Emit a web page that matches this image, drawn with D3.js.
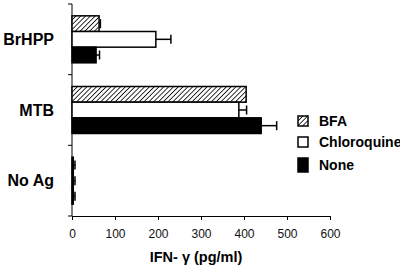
<!DOCTYPE html>
<html>
<head>
<meta charset="utf-8">
<script src="https://cdn.jsdelivr.net/npm/d3@7"></script>
<style>
  html, body { margin: 0; padding: 0; background: #fff; }
  svg { display: block; font-family: "Liberation Sans", Arial, sans-serif; }
</style>
</head>
<body>
<script>
const categories = ["BrHPP", "MTB", "No Ag"];
const series = ["BFA", "Chloroquine", "None"];
const bfaValues = [63, 405, 3];
const bfaErrors = [3, 0, 4];
const chloroquineValues = [195, 388, 3];
const chloroquineErrors = [35, 18, 4];
const noneValues = [56, 440, 3];
const noneErrors = [8, 36, 4];
const xTicks = [0, 100, 200, 300, 400, 500, 600];
const xTitle = "IFN- γ (pg/ml)";

const W = 400, H = 269;
const svg = d3.select("body").append("svg").attr("width", W).attr("height", H);

const defs = svg.append("defs");
const pat = defs.append("pattern").attr("id", "hatch")
  .attr("patternUnits", "userSpaceOnUse").attr("width", 3.4).attr("height", 3.4)
  .attr("patternTransform", "rotate(45)");
pat.append("rect").attr("width", 3.4).attr("height", 3.4).attr("fill", "#fff");
pat.append("line").attr("x1", 0).attr("y1", 0).attr("x2", 0).attr("y2", 3.4)
  .attr("stroke", "#000").attr("stroke-width", 1.6);

const fills = { "BFA": "url(#hatch)", "Chloroquine": "#fff", "None": "#000" };
const vals = { "BFA": bfaValues, "Chloroquine": chloroquineValues, "None": noneValues };
const errs = { "BFA": bfaErrors, "Chloroquine": chloroquineErrors, "None": noneErrors };

const x = d3.scaleLinear().domain([0, 600]).range([72, 330]);
const y0 = d3.scaleBand().domain(categories).range([4, 216]).paddingInner(0.335).paddingOuter(0.1675);
const y1 = d3.scaleBand().domain(series).range([0, y0.bandwidth()]);

// axes
const xAxis = svg.append("g").attr("transform", "translate(0,216)")
  .call(d3.axisBottom(x).tickValues(xTicks).tickSize(4).tickSizeOuter(0).tickPadding(9));
xAxis.select(".domain").attr("stroke", "#000").attr("stroke-width", 1);
xAxis.selectAll("text").attr("font-size", 12).attr("fill", "#111")
  .attr("font-family", "Liberation Sans, Arial, sans-serif");

const yAxis = svg.append("g").attr("transform", "translate(72,0)");
yAxis.append("line").attr("x1", 0).attr("x2", 0).attr("y1", 4).attr("y2", 216)
  .attr("stroke", "#000").attr("stroke-width", 1);
const bounds = [y0.range()[0]].concat(categories.map(c => y0(c) + y0.bandwidth() + y0.step() * y0.paddingInner() / 2));
bounds[bounds.length - 1] = 216;
yAxis.selectAll("line.tk").data(bounds).enter().append("line").attr("class", "tk")
  .attr("x1", -4).attr("x2", 0).attr("y1", d => d).attr("y2", d => d)
  .attr("stroke", "#000").attr("stroke-width", 1);

// category labels
svg.selectAll("text.cat").data(categories).enter().append("text").attr("class", "cat")
  .attr("x", 54).attr("y", d => y0(d) + y0.bandwidth() / 2)
  .attr("dy", "0.36em").attr("text-anchor", "end")
  .attr("font-size", 16).attr("font-weight", "bold").text(d => d);

// bars
categories.forEach((c, i) => {
  const g = svg.append("g");
  series.forEach(s => {
    const v = vals[s][i], e = errs[s][i];
    const yy = y0(c) + y1(s);
    const h = y1.bandwidth();
    g.append("rect").attr("x", x(0)).attr("y", yy).attr("width", x(v) - x(0)).attr("height", h)
      .attr("fill", fills[s]).attr("stroke", "#000").attr("stroke-width", 1.5);
    if (e > 0) {
      g.append("line").attr("x1", x(v)).attr("x2", x(v + e)).attr("y1", yy + h / 2).attr("y2", yy + h / 2)
        .attr("stroke", "#000").attr("stroke-width", 1.5);
      g.append("line").attr("x1", x(v + e)).attr("x2", x(v + e)).attr("y1", yy + h / 2 - 4.5).attr("y2", yy + h / 2 + 4.5)
        .attr("stroke", "#000").attr("stroke-width", 1.5);
    }
  });
});

// x title
svg.append("text").attr("x", 196).attr("y", 262).attr("text-anchor", "middle")
  .attr("font-size", 14.5).attr("font-weight", "bold").text(xTitle);

// legend
const legY = [121, 142, 163];
const leg = svg.append("g");
series.forEach((s, i) => {
  leg.append("rect").attr("x", 298).attr("y", legY[i] - 5).attr("width", 10).attr("height", s === "None" ? 14 : 10)
    .attr("fill", fills[s]).attr("stroke", "#000").attr("stroke-width", 1.5);
  leg.append("text").attr("x", 319).attr("y", legY[i] + (s === "None" ? 2 : 0)).attr("dy", "0.36em")
    .attr("font-size", 14).attr("font-weight", "bold").text(s);
});
</script>
</body>
</html>
